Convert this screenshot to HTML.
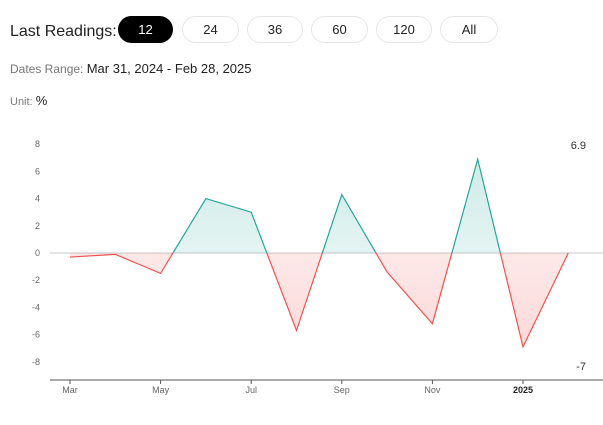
<!DOCTYPE html>
<html><head><meta charset="utf-8"><style>
body{margin:0;width:603px;height:425px;background:#fff;font-family:"Liberation Sans",sans-serif;position:relative;overflow:hidden}
.lbl{position:absolute;left:10px;top:23px;font-size:16px;color:#222}
.btn{position:absolute;top:16px;height:27px;border:1px solid #e6e6e6;border-radius:14px;box-sizing:border-box;font-size:13px;text-align:center;line-height:25px;color:#222;background:#fff}
.btn.on{background:#000;color:#fff;border-color:#000}
.meta{position:absolute;left:10px;font-size:12px;color:#777}
.meta b{font-weight:normal;color:#222;font-size:13px}
</style></head><body>
<div class="lbl">Last Readings:</div>
<div class="btn on" style="left:118px;width:55px">12</div>
<div class="btn" style="left:182px;width:57px">24</div>
<div class="btn" style="left:247px;width:56px">36</div>
<div class="btn" style="left:311px;width:57px">60</div>
<div class="btn" style="left:376px;width:56px">120</div>
<div class="btn" style="left:440px;width:58px">All</div>
<div class="meta" style="top:61px">Dates Range: <b>Mar 31, 2024 - Feb 28, 2025</b></div>
<div class="meta" style="top:93px;font-size:11px">Unit: <b>%</b></div>
<svg id="chart" width="603" height="425" style="position:absolute;left:0;top:0">
<defs>
<linearGradient id="gg" x1="0" y1="0" x2="0" y2="1"><stop offset="0" stop-color="#26a69a" stop-opacity="0.22"/><stop offset="1" stop-color="#26a69a" stop-opacity="0.03"/></linearGradient>
<linearGradient id="rg" x1="0" y1="0" x2="0" y2="1"><stop offset="0" stop-color="#ef5350" stop-opacity="0.04"/><stop offset="1" stop-color="#ef5350" stop-opacity="0.22"/></linearGradient>
<clipPath id="above"><rect x="0" y="0" width="603" height="253"/></clipPath>
<clipPath id="below"><rect x="0" y="253" width="603" height="200"/></clipPath>
</defs>
<g id="g"></g>
</svg>
<script>
const months=["Mar","Apr","May","Jun","Jul","Aug","Sep","Oct","Nov","Dec","Jan","Feb"];
const values=[-0.3,-0.1,-1.5,4.0,3.0,-5.7,4.3,-1.4,-5.2,6.9,-6.9,0.0];
const xLabels=["Mar","May","Jul","Sep","Nov","2025"];
const xLabelIdx=[0,2,4,6,8,10];
const yTicks=[8,6,4,2,0,-2,-4,-6,-8];
const NS="http://www.w3.org/2000/svg";
const g=document.getElementById('g');
const x=i=>70+i*45.3;
const y=v=>253-v*13.6;
function mk(t,a){const e=document.createElementNS(NS,t);for(const k in a)e.setAttribute(k,a[k]);g.appendChild(e);return e;}
yTicks.forEach(v=>{const t=mk('text',{x:40,y:y(v)+3,'font-size':9,fill:'#666','text-anchor':'end'});t.textContent=v;

});
const z=mk('line',{x1:50,x2:603,y1:y(0),y2:y(0),stroke:'#e3e3e3','stroke-width':2});


const pts=values.map((v,i)=>x(i)+','+y(v)).join(' ');
const area=`${x(0)},${y(0)} ${pts} ${x(values.length-1)},${y(0)}`;
const ga=mk('polygon',{points:area,fill:'url(#gg)','clip-path':'url(#above)'});


const ra=mk('polygon',{points:area,fill:'url(#rg)','clip-path':'url(#below)'});


const gl=mk('polyline',{points:pts,fill:'none',stroke:'#26a69a','stroke-width':1.2,'clip-path':'url(#above)'});


const rl=mk('polyline',{points:pts,fill:'none',stroke:'#ef5350','stroke-width':1.2,'clip-path':'url(#below)'});


const ax=mk('line',{x1:50,x2:603,y1:380,y2:380,stroke:'#555','stroke-width':1});


xLabels.forEach((l,k)=>{const i=xLabelIdx[k];
const tk=mk('line',{x1:x(i),x2:x(i),y1:380,y2:384,stroke:'#555'});


const t=mk('text',{x:x(i),y:393,'font-size':9,fill:l==='2025'?'#222':'#666','font-weight':l==='2025'?'bold':'normal','text-anchor':'middle'});t.textContent=l;

});
const mx=Math.max(...values),mn=Math.min(...values);
const t1=mk('text',{x:586,y:149,'font-size':11,fill:'#333','text-anchor':'end'});t1.textContent=mx;


const t2=mk('text',{x:586,y:370,'font-size':11,fill:'#333','text-anchor':'end'});t2.textContent=Math.round(mn);


</script>
</body></html>
